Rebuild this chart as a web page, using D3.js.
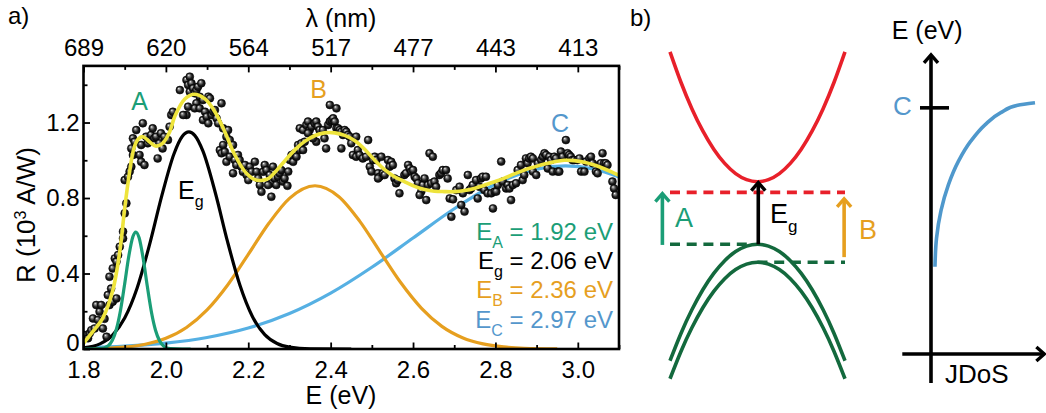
<!DOCTYPE html>
<html><head><meta charset="utf-8">
<script src="https://cdn.jsdelivr.net/npm/d3@7"></script>
<style>
body{margin:0;background:#fff}
svg{display:block}
text{font-family:"Liberation Sans",Arial,Helvetica,sans-serif;fill:#000}
</style>
</head><body>
<svg id="c" width="1046" height="413"></svg>
<script>
// ---------------- DATA (panel a) ----------------
const energyTicks = [1.8, 2.0, 2.2, 2.4, 2.6, 2.8, 3.0];
const energyMinorTicks = [1.9, 2.1, 2.3, 2.5, 2.7, 2.9, 3.1];
const wavelengthLabels = ["689", "620", "564", "517", "477", "443", "413"];
const rTicks = [0, 0.4, 0.8, 1.2];
const rMinorTicks = [0.2, 0.6, 1.0, 1.4];

// measured responsivity (E in eV, R in 10^3 A/W)
const measured = [
[1.803,0.074],[1.811,0.057],[1.815,0.083],[1.819,0.100],[1.823,0.162],[1.827,0.109],[1.831,0.233],[1.835,0.154],
[1.839,0.198],[1.843,0.233],[1.847,0.109],[1.851,0.160],[1.856,0.065],[1.859,0.286],[1.863,0.233],[1.863,0.383],
[1.867,0.320],[1.871,0.251],[1.871,0.427],[1.876,0.480],[1.880,0.268],[1.880,0.463],[1.884,0.498],[1.888,0.542],
[1.896,0.586],[1.896,0.622],[1.900,0.719],[1.904,0.772],[1.900,0.895],[1.908,0.913],[1.912,0.940],[1.916,0.966],
[1.920,1.028],[1.916,1.063],[1.920,1.116],[1.924,1.098],[1.928,1.160],[1.936,1.028],[1.940,0.992],[1.940,1.081],
[1.944,1.196],[1.948,0.975],[1.952,1.125],[1.956,1.090],[1.960,1.108],[1.964,1.134],[1.968,1.169],[1.972,1.116],
[1.976,1.125],[1.980,1.010],[1.984,1.090],[1.988,1.143],[1.992,1.063],[1.996,1.125],[2.005,1.108],[2.009,1.178],
[2.013,1.240],[2.017,1.257],
[2.034,1.372],[2.050,1.425],[2.058,1.443],[2.054,1.399],[2.062,1.408],[2.058,1.363],[2.066,1.381],[2.070,1.355],
[2.074,1.372],[2.078,1.390],[2.086,1.408],[2.082,1.337],[2.090,1.319],[2.054,1.284],[2.050,1.240],[2.042,1.240],
[2.074,1.302],[2.070,1.275],[2.082,1.275],[2.095,1.257],[2.090,1.213],[2.099,1.231],[2.103,1.196],[2.103,1.337],
[2.107,1.328],[2.111,1.240],[2.115,1.257],[2.119,1.266],[2.123,1.222],[2.127,1.196],[2.135,1.302],[2.139,1.169],
[2.147,1.125],[2.151,1.160],[2.155,1.107],[2.163,1.081],[2.131,1.054],[2.135,1.037],[2.139,1.081],[2.143,1.045],
[2.147,0.992],[2.155,1.019],[2.167,1.001],[2.163,0.931],[2.171,0.975],[2.175,1.028],[2.179,1.001],[2.183,0.966],
[2.192,0.975],[2.187,0.939],[2.196,0.922],[2.200,0.895],[2.204,0.966],[2.208,0.939],[2.216,0.992],[2.220,0.939],
[2.224,0.904],[2.228,0.869],[2.232,0.833],[2.236,0.939],[2.240,0.975],
[2.244,0.948],[2.252,0.922],[2.260,0.966],[2.256,0.878],[2.248,0.869],[2.264,0.904],[2.272,0.913],[2.268,0.869],
[2.276,0.931],[2.280,0.948],[2.284,0.887],[2.288,0.904],[2.295,0.865],[2.297,0.940],[2.301,1.001],[2.305,1.028],
[2.309,0.992],[2.313,1.037],[2.317,1.019],[2.321,1.081],[2.325,1.054],[2.329,1.090],[2.337,1.098],[2.333,1.054],
[2.256,0.807],[2.325,1.169],[2.333,1.160],[2.341,1.187],[2.345,1.205],[2.349,1.160],[2.353,1.178],[2.361,1.196],
[2.365,1.205],[2.369,1.178],[2.373,1.160],[2.381,1.160],[2.385,1.116],[2.389,1.063],[2.394,1.187],[2.398,1.205],
[2.402,1.213],[2.406,1.222],[2.410,1.205],[2.414,1.169],[2.418,1.169],[2.422,1.160],[2.426,1.151],[2.430,1.134],
[2.434,1.160],[2.438,1.151],[2.442,1.134],[2.446,1.125],[2.450,1.090],[2.454,1.028],[2.398,1.293],[2.414,1.275],
[2.426,1.063],[2.365,1.098],[2.357,1.116],[2.345,1.143],
[2.462,1.125],[2.491,1.107],[2.466,1.054],[2.462,1.019],[2.470,1.028],[2.478,1.010],[2.486,1.019],[2.495,0.966],
[2.499,0.940],[2.503,1.001],[2.507,1.019],[2.511,1.001],[2.515,0.931],[2.519,0.913],[2.515,0.904],[2.527,0.931],
[2.523,1.019],[2.531,0.922],[2.539,1.001],[2.547,0.992],[2.543,0.966],[2.551,0.975],[2.555,0.904],[2.559,0.878],
[2.563,0.895],[2.567,0.825],[2.579,0.922],[2.583,0.931],[2.588,0.975],[2.592,0.957],[2.596,0.940],[2.600,0.948],
[2.604,0.913],[2.608,0.904],[2.612,0.878],[2.620,0.834],[2.616,0.816],[2.624,0.869],[2.628,0.904],[2.632,0.789],
[2.636,0.869],[2.640,1.037],[2.648,1.019],[2.644,0.878],[2.652,0.887],[2.656,0.860],[2.664,0.922],[2.668,0.931],
[2.672,0.948],
[2.680,0.948],[2.684,0.904],[2.689,0.798],[2.697,0.793],[2.693,0.701],[2.705,0.842],[2.713,0.860],[2.717,0.763],
[2.725,0.728],[2.721,0.825],[2.733,0.922],[2.737,0.842],[2.741,0.851],[2.745,0.869],[2.753,0.895],[2.757,0.798],
[2.761,0.860],[2.765,0.904],[2.769,0.913],[2.777,0.913],[2.773,0.842],[2.781,0.825],[2.790,0.825],[2.794,0.745],
[2.798,0.834],[2.802,0.834],[2.806,0.869],[2.814,0.993],[2.818,0.887],[2.826,0.851],[2.830,0.869],[2.834,0.851],
[2.838,0.789],[2.842,0.869],[2.850,0.878],[2.854,0.948],[2.862,0.975],[2.866,0.895],[2.870,0.922],[2.874,1.010],
[2.878,0.984],[2.882,1.010],[2.886,1.019],[2.891,1.010],[2.891,0.940],
[2.899,0.922],[2.903,0.984],[2.911,1.001],[2.915,1.019],[2.919,1.037],[2.923,1.028],[2.927,0.957],[2.931,1.019],
[2.935,1.001],[2.939,0.940],[2.943,1.019],[2.947,1.010],[2.951,0.940],[2.955,0.940],[2.959,1.046],[2.963,1.019],
[2.971,1.107],[2.975,1.037],[2.979,1.028],[2.983,1.019],[2.987,1.001],[2.991,1.001],[2.999,1.001],[3.004,1.010],
[3.008,0.940],[3.016,0.940],[3.020,0.993],[3.028,1.010],[3.032,1.019],[3.036,0.984],[3.044,0.940],[3.048,0.931],
[3.052,0.975],[3.056,0.984],[3.060,1.037],[3.064,0.984],[3.068,0.984],[3.072,0.975],[3.084,0.887],[3.088,0.851],
[3.092,0.816]
];

// total fit (yellow)
const fitTotal = [
[1.800,0.030],[1.823,0.093],[1.847,0.165],[1.871,0.310],[1.888,0.515],[1.900,0.745],[1.912,0.940],[1.922,1.060],
[1.932,1.110],[1.944,1.125],[1.960,1.098],[1.976,1.075],[1.992,1.090],[2.009,1.150],[2.022,1.235],[2.046,1.325],
[2.068,1.350],[2.095,1.325],[2.119,1.257],[2.143,1.151],[2.167,1.030],[2.192,0.940],[2.216,0.897],[2.232,0.893],
[2.250,0.905],[2.264,0.935],[2.288,0.995],[2.313,1.055],[2.337,1.100],[2.361,1.130],[2.385,1.145],[2.410,1.145],
[2.434,1.132],[2.458,1.105],[2.482,1.060],[2.507,1.000],[2.531,0.950],[2.555,0.913],[2.579,0.887],[2.604,0.862],
[2.628,0.845],[2.652,0.836],[2.676,0.834],[2.701,0.834],[2.725,0.840],[2.749,0.851],[2.773,0.868],[2.798,0.886],
[2.822,0.905],[2.846,0.928],[2.870,0.948],[2.895,0.965],[2.919,0.980],[2.943,0.992],[2.967,1.000],[2.991,0.998],
[3.016,0.990],[3.040,0.975],[3.064,0.955],[3.088,0.932],[3.100,0.920]
];

// fitted components
const peakA = [[1.80,0],[1.84,0.0015],[1.86,0.017],[1.87,0.046],[1.88,0.106],[1.89,0.207],[1.90,0.346],[1.91,0.492],
[1.92,0.596],[1.927,0.62],[1.935,0.589],[1.945,0.478],[1.955,0.331],[1.965,0.195],[1.975,0.098],[1.985,0.042],
[1.995,0.015],[2.01,0.0025],[2.04,0],[2.06,0]];
const peakG = [[1.80,0.006],[1.84,0.027],[1.87,0.072],[1.90,0.164],[1.93,0.322],[1.96,0.550],[1.99,0.811],[2.02,1.036],
[2.04,1.127],[2.056,1.15],[2.07,1.132],[2.09,1.048],[2.12,0.828],[2.15,0.566],[2.18,0.336],[2.21,0.172],
[2.24,0.076],[2.27,0.029],[2.30,0.010],[2.35,0.001],[2.45,0]];
const peakB = [[1.80,0.0012],[1.85,0.0037],[1.90,0.0102],[1.95,0.0253],[2.00,0.0566],[2.05,0.114],[2.10,0.207],
[2.15,0.339],[2.20,0.501],[2.25,0.666],[2.30,0.798],[2.362,0.865],[2.42,0.807],[2.47,0.679],[2.52,0.515],
[2.57,0.352],[2.62,0.217],[2.67,0.120],[2.72,0.060],[2.77,0.027],[2.82,0.011],[2.87,0.004],[2.95,0.0006]];
const peakC = [[1.80,0.0065],[1.90,0.0148],[2.00,0.0313],[2.10,0.0611],[2.20,0.111],[2.30,0.188],[2.40,0.296],
[2.50,0.433],[2.60,0.588],[2.70,0.743],[2.80,0.873],[2.90,0.953],[2.97,0.97],[3.04,0.953],[3.10,0.912]];

const legendRows = [
  {main:"E", sub:"A", rest:" = 1.92 eV", color:"#1b9e77"},
  {main:"E", sub:"g", rest:" = 2.06 eV", color:"#000000"},
  {main:"E", sub:"B", rest:" = 2.36 eV", color:"#e69f1f"},
  {main:"E", sub:"C", rest:" = 2.97 eV", color:"#5497cc"}
];

// ---------------- DATA (panel b, schematic units) ----------------
const bandK = [-1,-0.875,-0.75,-0.625,-0.5,-0.375,-0.25,-0.125,0,0.125,0.25,0.375,0.5,0.625,0.75,0.875,1];
const conductionE = [6.15,5.177,4.334,3.621,3.038,2.584,2.259,2.065,2.0,2.065,2.259,2.584,3.038,3.621,4.334,5.177,6.15];
const valence1E = [-3.72,-2.848,-2.093,-1.453,-0.93,-0.523,-0.2325,-0.058,0,-0.058,-0.2325,-0.523,-0.93,-1.453,-2.093,-2.848,-3.72];
const valence2E = [-4.295,-3.423,-2.668,-2.028,-1.505,-1.098,-0.8075,-0.633,-0.575,-0.633,-0.8075,-1.098,-1.505,-2.028,-2.668,-3.423,-4.295];
const jdosJ = [0.038,0.053,0.096,0.167,0.263,0.382,0.519,0.671,0.833,1.0];
const jdosE = [-0.719,0.192,1.073,1.901,2.649,3.294,3.818,4.208,4.441,4.521];

// ---------------- DRAW ----------------
const svg = d3.select("#c");
const green = "#1b9e77", orange = "#e69f1f", blue = "#56b0e3", yellow = "#eee43c";
const red = "#e8202a", dkgreen = "#13693d";

const x = d3.scaleLinear().domain([1.8, 3.1]).range([83.5, 619]);
const y = d3.scaleLinear().domain([0, 1.5]).range([349, 65.9]);

const defs = svg.append("defs");
defs.append("clipPath").attr("id","plotclip").append("rect")
  .attr("x",83.5).attr("y",65.9).attr("width",619-83.5).attr("height",349-65.9);
const grad = defs.append("radialGradient").attr("id","ball").attr("cx","50%").attr("cy","50%").attr("r","55%")
  .attr("fx","35%").attr("fy","30%");
grad.append("stop").attr("offset","0%").attr("stop-color","#ffffff");
grad.append("stop").attr("offset","22%").attr("stop-color","#8c8c8c");
grad.append("stop").attr("offset","60%").attr("stop-color","#1e1e1e");
grad.append("stop").attr("offset","100%").attr("stop-color","#050505");

const plot = svg.append("g").attr("clip-path","url(#plotclip)");
const line = d3.line().x(d=>x(d[0])).y(d=>y(d[1])).curve(d3.curveMonotoneX);

[[peakC,blue],[peakB,orange],[peakG,"#000"],[peakA,green]].forEach(([d,c])=>{
  plot.append("path").attr("d",line(d)).attr("fill","none").attr("stroke",c).attr("stroke-width",3.2);
});

plot.selectAll("circle.pt").data(measured).join("circle").attr("class","pt")
  .attr("cx",d=>x(d[0])).attr("cy",d=>y(d[1])).attr("r",4)
  .attr("fill","url(#ball)").attr("stroke","#000").attr("stroke-width",0.5);

plot.append("path").attr("d",d3.line().x(d=>x(d[0])).y(d=>y(d[1])).curve(d3.curveCatmullRom.alpha(0.5))(fitTotal))
  .attr("fill","none").attr("stroke",yellow).attr("stroke-width",3.6);

// frame
svg.append("rect").attr("x",83.5).attr("y",65.9).attr("width",619-83.5).attr("height",349-65.9)
  .attr("fill","none").attr("stroke","#000").attr("stroke-width",2.6);

function styleAxis(g){ g.select(".domain").remove(); g.selectAll(".tick line").attr("stroke","#000").attr("stroke-width",1.8);
  g.selectAll("text").attr("font-size",24).attr("font-family",null).attr("fill","#000"); }

svg.append("g").attr("transform","translate(0,349)")
  .call(d3.axisBottom(x).tickValues(energyTicks).tickSize(-6.5).tickPadding(12).tickFormat(d3.format(".1f"))).call(styleAxis);
svg.append("g").attr("transform","translate(0,349)")
  .call(d3.axisBottom(x).tickValues(energyMinorTicks).tickSize(-4).tickFormat("")).call(styleAxis);
svg.append("g").attr("transform","translate(0,65.9)")
  .call(d3.axisTop(x).tickValues(energyTicks).tickSize(-6.5).tickPadding(10).tickFormat((d,i)=>wavelengthLabels[i])).call(styleAxis);
svg.append("g").attr("transform","translate(0,65.9)")
  .call(d3.axisTop(x).tickValues(energyMinorTicks).tickSize(-4).tickFormat("")).call(styleAxis);
const yAx = svg.append("g").attr("transform","translate(83.5,0)")
  .call(d3.axisLeft(y).tickValues(rTicks).tickSize(-6.5).tickPadding(4).tickFormat(d=>d===0?"0":d3.format(".1f")(d))).call(styleAxis);
yAx.selectAll(".tick text").filter(d=>d===0).attr("dy","0.06em");
svg.append("g").attr("transform","translate(83.5,0)")
  .call(d3.axisLeft(y).tickValues(rMinorTicks).tickSize(-4).tickFormat("")).call(styleAxis);

// titles
svg.append("text").attr("x",8).attr("y",24).attr("font-size",24).text("a)");
svg.append("text").attr("x",341).attr("y",27).attr("font-size",25).attr("text-anchor","middle").text("λ (nm)");
svg.append("text").attr("x",341).attr("y",404).attr("font-size",25).attr("text-anchor","middle").text("E (eV)");
const yt = svg.append("text").attr("transform","translate(35,215) rotate(-90)").attr("font-size",26).attr("text-anchor","middle");
yt.append("tspan").text("R (10");
yt.append("tspan").attr("font-size",16).attr("dy",-9).text("3");
yt.append("tspan").attr("dy",9).text(" A/W)");

// peak labels
svg.append("text").attr("x",139.5).attr("y",110).attr("font-size",25).attr("text-anchor","middle").style("fill",green).text("A");
svg.append("text").attr("x",318.5).attr("y",98).attr("font-size",25).attr("text-anchor","middle").style("fill",orange).text("B");
svg.append("text").attr("x",560).attr("y",132).attr("font-size",25).attr("text-anchor","middle").style("fill","#5497cc").text("C");
const eg = svg.append("text").attr("x",178).attr("y",199).attr("font-size",25);
eg.append("tspan").text("E"); eg.append("tspan").attr("font-size",16).attr("dy",8).text("g");

// legend
legendRows.forEach((r,i)=>{
  const t = svg.append("text").attr("x",613).attr("y",240+i*29.2).attr("font-size",24).attr("text-anchor","end").style("fill",r.color);
  t.append("tspan").text(r.main);
  t.append("tspan").attr("font-size",16).attr("dy",8).text(r.sub);
  t.append("tspan").attr("dy",-8).text(r.rest);
});

// ---------------- panel b ----------------
const kS = d3.scaleLinear().domain([-1,1]).range([670,845]);
const eS = d3.scaleLinear().domain([0,2]).range([244.3,181.7]);
const jS = d3.scaleLinear().domain([0,1]).range([931,1035]);

function marker(id,color){
  defs.append("marker").attr("id",id).attr("viewBox","-12 -10 16 20").attr("refX",0).attr("refY",0)
    .attr("markerWidth",16).attr("markerHeight",20).attr("markerUnits","userSpaceOnUse").attr("orient","auto")
    .append("path").attr("d","M-8,-7L0,0L-8,7").attr("fill","none").attr("stroke",color).attr("stroke-width",3.4)
    .attr("stroke-linejoin","miter");
}
marker("arK","#000"); marker("arG",green); marker("arO",orange);

const bandLine = d3.line().x(d=>kS(d[0])).y(d=>eS(d[1])).curve(d3.curveNatural);
svg.append("path").attr("d",bandLine(bandK.map((k,i)=>[k,conductionE[i]]))).attr("fill","none").attr("stroke",red).attr("stroke-width",3.6);
svg.append("path").attr("d",bandLine(bandK.map((k,i)=>[k,valence1E[i]]))).attr("fill","none").attr("stroke",dkgreen).attr("stroke-width",3.6);
svg.append("path").attr("d",bandLine(bandK.map((k,i)=>[k,valence2E[i]]))).attr("fill","none").attr("stroke",dkgreen).attr("stroke-width",3.6);

function seg(k1,e1,k2,e2,color,opts){
  const p = svg.append("line").attr("x1",kS(k1)).attr("y1",eS(e1)).attr("x2",kS(k2)).attr("y2",eS(e2))
    .attr("stroke",color).attr("stroke-width",opts.w||3.6);
  if(opts.dash) p.attr("stroke-dasharray",opts.dash);
  if(opts.m) p.attr("marker-end",`url(#${opts.m})`);
  return p;
}
seg(-1,1.66,1,1.66,red,{dash:"10,6.7"});
seg(-1,0,-0.12,0,dkgreen,{dash:"10,6.7"});
seg(0,-0.575,1,-0.575,dkgreen,{dash:"10,6.7"});
seg(-1.087,-0.02,-1.087,1.62,green,{m:"arG"});
seg(0.009,0,0.009,1.97,"#000",{m:"arK"});
seg(0.99,-0.41,0.99,1.45,orange,{m:"arO"});

svg.append("text").attr("x",630).attr("y",26).attr("font-size",24).text("b)");
svg.append("text").attr("x",675).attr("y",226.7).attr("font-size",27).style("fill",green).text("A");
svg.append("text").attr("x",859).attr("y",239).attr("font-size",27).style("fill",orange).text("B");
const eg2 = svg.append("text").attr("x",770).attr("y",223).attr("font-size",27);
eg2.append("tspan").text("E"); eg2.append("tspan").attr("font-size",17).attr("dy",9).text("g");

// JDoS
svg.append("line").attr("x1",jS(0)).attr("y1",eS(-4.43)).attr("x2",jS(0)).attr("y2",eS(6.05))
  .attr("stroke","#000").attr("stroke-width",3.6).attr("marker-end","url(#arK)");
svg.append("line").attr("x1",jS(-0.276)).attr("y1",eS(-3.505)).attr("x2",jS(1.09)).attr("y2",eS(-3.505))
  .attr("stroke","#000").attr("stroke-width",3.6).attr("marker-end","url(#arK)");
svg.append("line").attr("x1",jS(-0.106)).attr("y1",eS(4.36)).attr("x2",jS(0.173)).attr("y2",eS(4.36))
  .attr("stroke","#000").attr("stroke-width",3.6);
svg.append("path").attr("d",d3.line().x(d=>jS(d[0])).y(d=>eS(d[1])).curve(d3.curveMonotoneY)(jdosJ.map((j,i)=>[j,jdosE[i]])))
  .attr("fill","none").attr("stroke","#4f98cc").attr("stroke-width",3.6);
svg.append("text").attr("x",891.7).attr("y",38.5).attr("font-size",25).text("E (eV)");
svg.append("text").attr("x",945).attr("y",383).attr("font-size",26).text("JDoS");
svg.append("text").attr("x",911.7).attr("y",115).attr("font-size",26).attr("text-anchor","end").style("fill","#5497cc").text("C");
</script>
</body></html>
